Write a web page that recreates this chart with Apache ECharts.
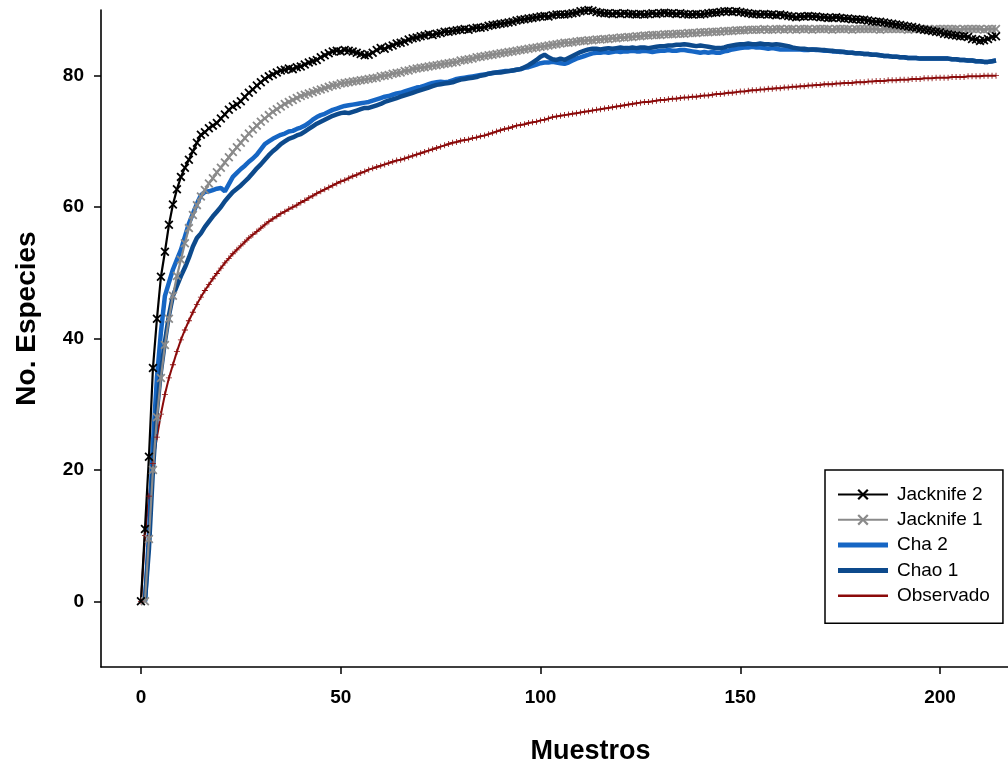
<!DOCTYPE html>
<html><head><meta charset="utf-8">
<script src="https://cdn.jsdelivr.net/npm/echarts@6/dist/echarts.min.js"></script>
<style>html,body{margin:0;padding:0;background:#fff}#c{width:1008px;height:766px}</style>
</head><body><div id="c"></div>
<script>
// x = sample index (0..214)
const seriesNames = ['Jacknife 2', 'Jacknife 1', 'Cha 2', 'Chao 1', 'Observado'];
const xTicks = [0, 50, 100, 150, 200];
const yTicks = [0, 20, 40, 60, 80];

const jacknife2 = [0,11,22,35.5,43,49.4,53.2,57.3,60.4,62.7,
64.6,66,67.2,68.5,69.8,71,71.4,72,72.4,72.8,
73.5,74.1,74.8,75.3,75.6,76.1,76.8,77.4,77.9,78.5,
79,79.5,79.9,80.2,80.5,80.8,80.9,81.1,81,81.3,
81.4,81.7,82,82.2,82.4,82.8,83.1,83.4,83.7,83.8,
83.7,83.9,83.8,83.7,83.5,83.3,83.1,83.2,83.5,83.9,
84.2,84.1,84.4,84.6,84.9,85,85.2,85.5,85.7,85.8,
86,86.1,86.3,86.2,86.4,86.5,86.7,86.7,86.8,86.9,
87,87.1,87,87.2,87.3,87.3,87.4,87.6,87.7,87.8,
87.9,88,88.1,88.2,88.4,88.5,88.6,88.7,88.8,88.9,
89,89.1,89,89.2,89.3,89.3,89.3,89.4,89.5,89.6,
89.8,89.9,90,89.9,89.7,89.6,89.5,89.5,89.4,89.5,
89.4,89.5,89.4,89.4,89.3,89.4,89.3,89.4,89.5,89.4,
89.5,89.6,89.5,89.5,89.4,89.5,89.4,89.3,89.3,89.4,
89.3,89.4,89.5,89.6,89.6,89.7,89.8,89.8,89.7,89.8,
89.7,89.6,89.5,89.4,89.4,89.3,89.4,89.3,89.3,89.2,
89.3,89.2,89.1,89,88.9,89,89,89.1,89,89,
88.9,88.9,88.8,88.8,88.9,88.8,88.7,88.7,88.6,88.6,
88.5,88.5,88.4,88.3,88.2,88.2,88.1,88,87.9,87.8,
87.7,87.6,87.5,87.4,87.3,87.1,87,86.9,86.8,86.7,
86.6,86.4,86.3,86.2,86.1,86,86,85.9,85.6,85.5,
85.3,85.4,85.6,85.9,86];

const jacknife1 = [null,0,9.5,20,28,34,39,43,46.5,49.5,
52,54.5,56.8,58.8,60.3,61.6,62.6,63.6,64.4,65.3,
66,66.8,67.6,68.4,69.1,69.8,70.5,71.2,71.8,72.4,
73,73.5,74,74.5,74.9,75.3,75.7,76,76.3,76.6,
76.9,77.1,77.3,77.5,77.7,77.9,78.1,78.3,78.5,78.6,
78.8,78.9,79,79.1,79.2,79.3,79.4,79.5,79.6,79.7,
79.9,80,80.1,80.3,80.4,80.5,80.7,80.8,81,81.1,
81.2,81.3,81.4,81.5,81.6,81.7,81.8,81.9,82,82.1,
82.3,82.4,82.5,82.6,82.8,82.9,83,83.1,83.2,83.3,
83.4,83.5,83.6,83.7,83.8,83.9,84,84.1,84.2,84.3,
84.4,84.5,84.6,84.7,84.8,84.9,85,85,85.1,85.2,
85.3,85.3,85.4,85.4,85.5,85.5,85.6,85.6,85.7,85.7,
85.8,85.8,85.9,85.9,86,86,86.1,86.1,86.2,86.2,
86.2,86.3,86.3,86.3,86.4,86.4,86.4,86.5,86.5,86.5,
86.6,86.6,86.6,86.7,86.7,86.7,86.8,86.8,86.8,86.9,
86.9,86.9,87,87,87,87,87.1,87,87,87.1,
87.1,87,87.1,87.1,87,87.1,87.1,87.1,87,87.1,
87.1,87.1,87.1,87,87.1,87.1,87.1,87.1,87,87.1,
87.1,87.1,87.1,87.1,87.1,87,87.1,87.1,87.1,87.1,
87.1,87.1,87,87.1,87.1,87.1,87.1,87.1,87,87.1,
87.1,87.1,87.1,87.1,87.1,87,87.1,87.1,87.1,87.1,
87.1,87,87.1,87.1,87.1];

const cha2 = [null,0,10,24,34,41,46.5,48.5,50.5,52,
53.5,55.5,57.5,59,60.5,61.8,62.3,62.4,62.6,62.8,
62.9,62.4,63.5,64.6,65.2,65.8,66.3,66.9,67.4,68,
68.8,69.6,70,70.4,70.7,71,71.2,71.5,71.6,71.9,
72.1,72.4,72.8,73.3,73.7,74,74.2,74.5,74.8,75,
75.2,75.4,75.5,75.6,75.7,75.8,75.9,76,76.2,76.4,
76.6,76.8,76.9,77.1,77.3,77.4,77.6,77.8,78,78.2,
78.3,78.5,78.7,78.9,79,79.1,79,79.1,79.3,79.5,
79.6,79.7,79.8,79.9,80,80.1,80.2,80.3,80.4,80.5,
80.6,80.7,80.7,80.8,80.9,81,81.2,81.3,81.5,81.7,
81.9,82,82,82.1,82,81.9,81.8,82,82.3,82.6,
82.8,83,83.2,83.4,83.5,83.5,83.6,83.5,83.6,83.7,
83.6,83.7,83.7,83.8,83.7,83.7,83.8,83.7,83.6,83.7,
83.8,83.8,83.9,83.8,83.8,83.9,83.9,83.8,83.7,83.6,
83.5,83.6,83.5,83.6,83.5,83.5,83.7,83.8,84,84.1,
84.2,84.3,84.3,84.4,84.3,84.3,84.2,84.1,84.2,84.1,
84,84,84,84,84,84,83.9,83.9,84,83.9,
83.9,83.8,83.8,83.7,83.7,83.6,83.6,83.5,83.5,83.4,
83.4,83.3,83.3,83.2,83.2,83.1,83,83,82.9,82.9,
82.8,82.8,82.7,82.7,82.7,82.6,82.6,82.6,82.6,82.6,
82.6,82.6,82.6,82.5,82.5,82.4,82.4,82.3,82.3,82.2,
82.2,82.1,82.1,82.2,82.3];

const chao1 = [null,0,8,20,29,35,39.5,43.5,46.5,48,
49.5,50.8,52.3,54,55.3,56,57,57.8,58.6,59.3,
60,60.9,61.6,62.3,62.8,63.3,63.9,64.5,65.2,65.9,
66.5,67.2,67.9,68.5,69,69.6,70,70.4,70.6,70.9,
71.1,71.5,71.9,72.3,72.7,73,73.3,73.6,73.9,74.1,
74.3,74.4,74.3,74.5,74.7,74.9,75.1,75.1,75.3,75.5,
75.7,76,76.2,76.4,76.6,76.8,77,77.2,77.4,77.6,
77.8,78,78.2,78.4,78.6,78.7,78.8,78.9,79,79.2,
79.4,79.5,79.6,79.7,79.8,80,80.1,80.3,80.4,80.5,
80.5,80.6,80.7,80.8,80.9,81,81.3,81.6,82,82.4,
82.9,83.2,82.8,82.5,82.4,82.6,82.4,82.7,83,83.3,
83.6,83.8,84,84.1,84.1,84,84.1,84.2,84.1,84.2,
84.3,84.2,84.2,84.3,84.2,84.3,84.3,84.2,84.3,84.4,
84.5,84.5,84.6,84.6,84.7,84.7,84.8,84.7,84.6,84.5,
84.6,84.5,84.4,84.3,84.2,84.2,84.3,84.5,84.6,84.7,
84.8,84.8,84.9,84.8,84.8,84.9,84.8,84.8,84.7,84.8,
84.7,84.6,84.5,84.3,84.2,84.1,84.1,84,84,84,
83.9,83.9,83.8,83.8,83.7,83.7,83.6,83.5,83.5,83.4,
83.4,83.3,83.3,83.2,83.2,83.1,83,83,82.9,82.9,
82.8,82.8,82.7,82.7,82.7,82.6,82.6,82.6,82.6,82.6,
82.6,82.6,82.6,82.5,82.5,82.4,82.4,82.3,82.3,82.2,
82.2,82.1,82.1,82.2,82.3];

const observado = [0,10,16,21,25,28.5,31.5,34,36,38,
39.8,41.3,42.7,44,45.2,46.3,47.3,48.2,49.1,49.9,
50.7,51.5,52.2,52.9,53.5,54.1,54.7,55.3,55.8,56.3,
56.8,57.3,57.8,58.2,58.6,59,59.3,59.7,60,60.3,
60.7,61,61.4,61.7,62.1,62.4,62.7,63,63.3,63.6,
63.9,64.1,64.4,64.7,64.9,65.2,65.4,65.7,65.9,66.1,
66.3,66.5,66.7,66.9,67.1,67.2,67.4,67.6,67.8,68,
68.2,68.4,68.6,68.8,69,69.2,69.4,69.6,69.8,69.9,
70.1,70.2,70.3,70.5,70.6,70.8,70.9,71.1,71.3,71.5,
71.7,71.9,72,72.2,72.4,72.5,72.6,72.8,72.9,73,
73.2,73.3,73.5,73.7,73.8,73.9,74,74.1,74.2,74.3,
74.4,74.5,74.6,74.7,74.8,74.9,75,75.1,75.2,75.3,
75.4,75.5,75.6,75.7,75.8,75.9,76,76,76.1,76.2,
76.3,76.3,76.4,76.5,76.5,76.6,76.7,76.7,76.8,76.8,
76.9,77,77,77.1,77.2,77.2,77.3,77.4,77.4,77.5,
77.6,77.6,77.7,77.8,77.8,77.9,77.9,78,78,78.1,
78.1,78.2,78.2,78.3,78.3,78.4,78.4,78.5,78.5,78.6,
78.6,78.7,78.7,78.7,78.8,78.8,78.9,78.9,78.9,79,
79,79,79.1,79.1,79.2,79.2,79.2,79.3,79.3,79.3,
79.4,79.4,79.4,79.5,79.5,79.5,79.6,79.6,79.6,79.7,
79.7,79.7,79.7,79.8,79.8,79.8,79.8,79.9,79.9,79.9,
79.9,80,80,80,80];

function pairs(arr) {
  const out = [];
  arr.forEach((v, i) => { if (v !== null) out.push([i, v]); });
  return out;
}

const xMark = 'path://M0,1.4L1.4,0L5,3.6L8.6,0L10,1.4L6.4,5L10,8.6L8.6,10L5,6.4L1.4,10L0,8.6L3.6,5Z';
const plusMark = 'path://M0,4.3L4.3,4.3L4.3,0L5.7,0L5.7,4.3L10,4.3L10,5.7L5.7,5.7L5.7,10L4.3,10L4.3,5.7L0,5.7Z';
const barThick = 'path://M0,0L50,0L50,5L0,5Z';
const barThin = 'path://M0,0L50,0L50,2.6L0,2.6Z';
const FONT = 'Liberation Sans, Arial, sans-serif';

const chart = echarts.init(document.getElementById('c'), null, {renderer: 'canvas'});
chart.setOption({
  animation: false,
  backgroundColor: '#fff',
  grid: {left: 101, right: 0, top: 10, bottom: 99, containLabel: false, outerBoundsMode: 'none'},
  xAxis: {
    type: 'value', min: -10, max: 217,
    axisLine: {onZero: false, lineStyle: {color: '#000', width: 1.6}},
    axisTick: {customValues: xTicks, length: 7, lineStyle: {color: '#000', width: 1.5}},
    axisLabel: {customValues: xTicks, fontSize: 19, fontWeight: 'bold', color: '#000', fontFamily: FONT, margin: 21},
    splitLine: {show: false},
    name: 'Muestros', nameLocation: 'middle', nameGap: 71,
    nameTextStyle: {fontSize: 27, fontWeight: 'bold', color: '#000', fontFamily: FONT, padding: [0, 0, 0, 72]}
  },
  yAxis: {
    type: 'value', min: -10, max: 90,
    axisLine: {onZero: false, lineStyle: {color: '#000', width: 1.6}},
    axisTick: {customValues: yTicks, length: 7, lineStyle: {color: '#000', width: 1.5}},
    axisLabel: {customValues: yTicks, fontSize: 19, fontWeight: 'bold', color: '#000', fontFamily: FONT, margin: 17},
    splitLine: {show: false},
    name: 'No. Especies', nameLocation: 'middle', nameGap: 60,
    nameTextStyle: {fontSize: 28, fontWeight: 'bold', color: '#000', fontFamily: FONT, padding: [0, 0, 0, 40]}
  },
  legend: {
    orient: 'vertical', left: 825, top: 470,
    itemWidth: 50, itemHeight: 14, itemGap: 6.3,
    padding: [15, 13, 18, 12],
    borderColor: '#000', borderWidth: 1.5, backgroundColor: '#fff',
    textStyle: {fontSize: 19, fontFamily: FONT, color: '#000', padding: [0, 0, 0, 4]},
    data: [
      {name: 'Jacknife 2'},
      {name: 'Jacknife 1'},
      {name: 'Cha 2', icon: barThick},
      {name: 'Chao 1', icon: barThick},
      {name: 'Observado', icon: barThin}
    ]
  },
  series: [
    {name: 'Observado', type: 'line', data: pairs(observado), symbol: plusMark, symbolSize: 6,
     showAllSymbol: true, color: '#8b0a0a', lineStyle: {width: 2, color: '#8b0a0a'}, itemStyle: {color: '#8b0a0a'}},
    {name: 'Cha 2', type: 'line', data: pairs(cha2), symbol: 'none', color: '#1666c4',
     lineStyle: {width: 4.5, color: '#1666c4'}},
    {name: 'Chao 1', type: 'line', data: pairs(chao1), symbol: 'none', color: '#0d4a8c',
     lineStyle: {width: 4.5, color: '#0d4a8c'}},
    {name: 'Jacknife 1', type: 'line', data: pairs(jacknife1), symbol: xMark, symbolSize: 9,
     showAllSymbol: true, color: '#8a8a8a', lineStyle: {width: 2.2, color: '#8a8a8a'}, itemStyle: {color: '#8a8a8a'}},
    {name: 'Jacknife 2', type: 'line', data: pairs(jacknife2), symbol: xMark, symbolSize: 9,
     showAllSymbol: true, color: '#000', lineStyle: {width: 2.2, color: '#000'}, itemStyle: {color: '#000'}}
  ]
});
</script>
</body></html>
